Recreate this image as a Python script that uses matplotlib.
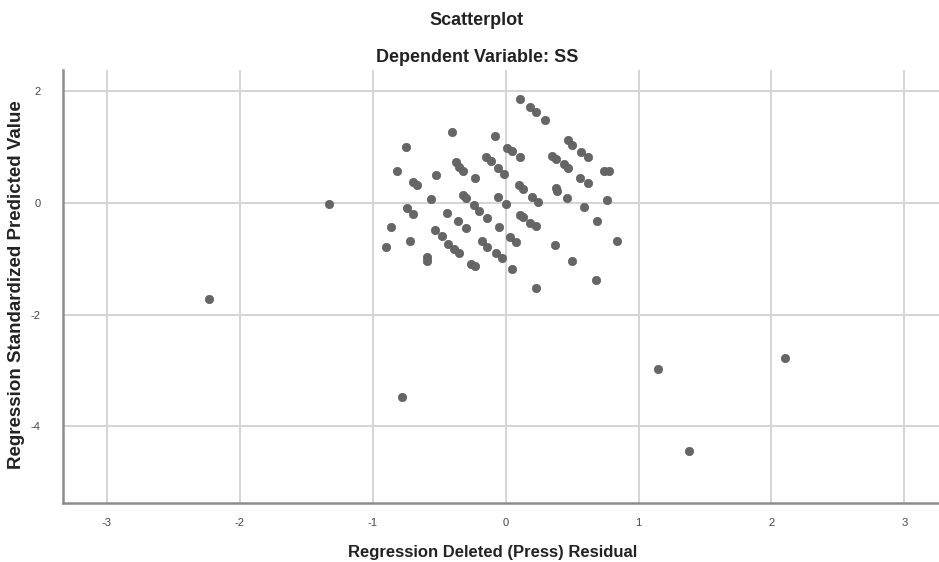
import matplotlib
matplotlib.use("Agg")
import matplotlib.pyplot as plt

# residuals (x) and standardized predicted values (y)
resid = [-0.40, -0.08, -0.75, 0.01, 0.05, 0.11, -0.82, -0.70, -0.67, -0.52,
         -0.37, -0.35, -0.32, -0.23, -0.15, -0.11, -0.06, -0.01, -0.32, -0.30,
         -0.56, -0.06, 0.00, 0.11, 0.18, 0.23, 0.30, 0.47, 0.50, 0.57,
         0.62, 0.35, 0.38, 0.44, 0.47, 0.74, 0.78, 0.56, 0.62, 0.10,
         0.13, 0.20, 0.24, 0.38, 0.39, 0.46, 0.76, 0.59, 0.11, 0.13,
         0.18, 0.23, -0.05, 0.69, 0.03, 0.08, 0.84, 0.37, -0.07, -0.03,
         0.50, 0.05, 0.68, 0.23, -0.74, -0.70, -0.44, -0.24, -0.20, -0.14,
         -0.36, -0.30, -0.86, -0.53, -0.48, -0.72, -0.18, -0.14, -0.43, -0.39,
         -0.35, -0.90, -0.59, -0.59, -0.26, -0.23,
         -1.33, -2.23, -0.78, 1.15, 2.10, 1.38]
pred = [1.27, 1.20, 1.00, 0.99, 0.93, 0.82, 0.57, 0.38, 0.32, 0.50,
        0.73, 0.65, 0.57, 0.45, 0.82, 0.75, 0.63, 0.52, 0.14, 0.09,
        0.07, 0.11, -0.02, 1.86, 1.72, 1.63, 1.49, 1.13, 1.04, 0.91,
        0.82, 0.84, 0.79, 0.70, 0.63, 0.57, 0.57, 0.45, 0.36, 0.32,
        0.25, 0.11, 0.02, 0.27, 0.22, 0.09, 0.05, -0.07, -0.22, -0.25,
        -0.36, -0.41, -0.43, -0.32, -0.61, -0.70, -0.68, -0.75, -0.90, -0.99,
        -1.04, -1.18, -1.38, -1.52, -0.09, -0.20, -0.18, -0.03, -0.14, -0.27,
        -0.32, -0.45, -0.43, -0.48, -0.59, -0.68, -0.68, -0.79, -0.73, -0.82,
        -0.90, -0.79, -0.97, -1.04, -1.09, -1.13,
        -0.02, -1.72, -3.48, -2.97, -2.78, -4.44]

xticks = [-3, -2, -1, 0, 1, 2, 3]
yticks = [2, 0, -2, -4]

plt.rcParams['font.family'] = ['Liberation Sans', 'DejaVu Sans']
plt.rcParams['axes.unicode_minus'] = False

fig = plt.figure(figsize=(9.39, 5.62), dpi=100)
ax = fig.add_axes([0.067, 0.105, 0.933, 0.77])

ax.scatter(resid, pred, s=36, color='#666666', edgecolors='#5e5e5e',
           linewidths=0.5, zorder=3)

ax.set_xlim(-3.33, 3.26)
ax.set_ylim(-5.37, 2.38)
ax.set_xticks(xticks)
ax.set_yticks(yticks)
ax.grid(True, color='#d4d4d4', linewidth=1.4)
ax.set_axisbelow(True)
ax.tick_params(axis='x', length=0, labelsize=8, colors='#444444', pad=11)
ax.tick_params(axis='y', length=0, labelsize=8, colors='#444444', pad=16)

for side in ['top', 'right']:
    ax.spines[side].set_visible(False)
for side in ['left', 'bottom']:
    ax.spines[side].set_color('#8c8c8c')
    ax.spines[side].set_linewidth(1.8)

ax.set_xlabel('Regression Deleted (Press) Residual', fontsize=12,
              fontweight='bold', color='#222222')
ax.set_ylabel('Regression Standardized Predicted Value', fontsize=13.5,
              fontweight='bold', color='#222222')
ax.xaxis.set_label_coords(0.49, -0.096)
ax.yaxis.set_label_coords(-0.043, 0.505)

fig.text(0.508, 0.963, 'Scatterplot', ha='center', va='center',
         fontsize=13, fontweight='bold', color='#222222')
fig.text(0.508, 0.898, 'Dependent Variable: SS', ha='center', va='center',
         fontsize=13, fontweight='bold', color='#222222')

fig.savefig('out.png', dpi=100)
